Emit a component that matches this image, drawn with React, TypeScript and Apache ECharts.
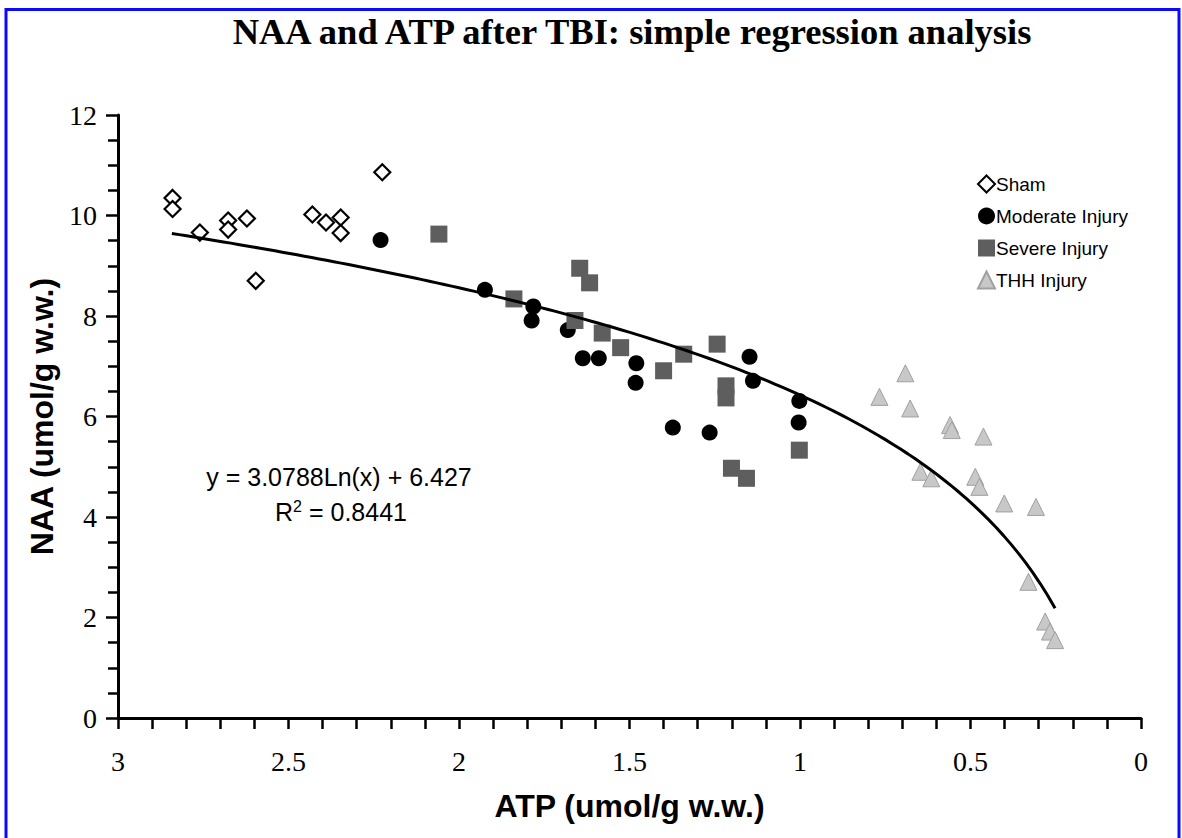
import React, { useEffect, useRef } from "react";
import * as echarts from "echarts";

// ---- data (ATP, NAA) ----
const shamATP = [2.84, 2.84, 2.76, 2.677, 2.677, 2.622, 2.596, 2.43, 2.39, 2.347, 2.347, 2.225];
const shamNAA = [10.35, 10.13, 9.66, 9.9, 9.72, 9.94, 8.7, 10.02, 9.86, 9.96, 9.65, 10.86];

const moderateATP = [2.23, 1.924, 1.782, 1.787, 1.681, 1.637, 1.59, 1.48, 1.482, 1.373, 1.265, 1.148, 1.138, 1.002, 1.004];
const moderateNAA = [9.51, 8.52, 8.19, 7.91, 7.72, 7.16, 7.16, 7.06, 6.67, 5.78, 5.68, 7.19, 6.71, 6.31, 5.88];

const severeATP = [2.059, 1.646, 1.617, 1.839, 1.66, 1.58, 1.526, 1.4, 1.341, 1.243, 1.217, 1.217, 1.201, 1.157, 1.002];
const severeNAA = [9.63, 8.95, 8.66, 8.34, 7.91, 7.66, 7.37, 6.91, 7.24, 7.44, 6.61, 6.37, 4.97, 4.77, 5.33];

const thhATP = [0.691, 0.767, 0.677, 0.56, 0.555, 0.462, 0.647, 0.615, 0.486, 0.474, 0.401, 0.308, 0.33, 0.281, 0.267, 0.252];
const thhNAA = [6.86, 6.39, 6.16, 5.83, 5.73, 5.6, 4.9, 4.77, 4.8, 4.6, 4.27, 4.2, 2.71, 1.92, 1.72, 1.55];

// regression shown on chart: y = a ln(x) + b, drawn over the fitted range
const fitA = 3.0788;
const fitB = 6.427;
const fitMin = 0.252;
const fitMax = 2.842;

const xTicks = ["3", "2.5", "2", "1.5", "1", "0.5", "0"];
const yTicks = ["0", "2", "4", "6", "8", "10", "12"];

const seriesNames = ["Sham", "Moderate Injury", "Severe Injury", "THH Injury"];

const zip = (a: number[], b: number[]) => a.map((v, i) => [v, b[i]]);

export default function App() {
  const ref = useRef<HTMLDivElement>(null);
  useEffect(() => {
    if (!ref.current) return;
    const chart = echarts.init(ref.current, null, { renderer: "svg" });
    const fit: number[][] = [];
    const steps = 120;
    for (let i = 0; i <= steps; i++) {
      const x = fitMin + ((fitMax - fitMin) * i) / steps;
      fit.push([x, fitA * Math.log(x) + fitB]);
    }
    const serif = "'Liberation Serif', 'Times New Roman', serif";
    const sans = "'Liberation Sans', Arial, sans-serif";
    chart.setOption({
      animation: false,
      backgroundColor: "#ffffff",
      grid: { left: 118, right: 41, top: 115, bottom: 120 },
      xAxis: {
        type: "value",
        min: 0,
        max: 3,
        interval: 0.5,
        inverse: true,
        splitLine: { show: false },
        minorSplitLine: { show: false },
        axisLine: { show: true, onZero: false, lineStyle: { color: "#000", width: 3 } },
        axisTick: { show: true, length: 11, lineStyle: { color: "#000", width: 2.5 } },
        minorTick: { show: true, splitNumber: 5, length: 11, lineStyle: { color: "#000", width: 2.5 } },
        axisLabel: {
          margin: 29,
          fontFamily: serif,
          fontSize: 28,
          color: "#000",
          formatter: (v: number) => xTicks[Math.round((3 - v) / 0.5)] ?? String(v),
        },
        name: "ATP (umol/g w.w.)",
        nameLocation: "middle",
        nameGap: 72,
        nameTextStyle: { fontFamily: sans, fontWeight: "bold", fontSize: 32, color: "#000" },
      },
      yAxis: {
        type: "value",
        min: 0,
        max: 12,
        interval: 2,
        splitLine: { show: false },
        minorSplitLine: { show: false },
        axisLine: { show: true, onZero: false, lineStyle: { color: "#000", width: 3 } },
        axisTick: { show: true, length: 12, lineStyle: { color: "#000", width: 2.5 } },
        minorTick: { show: true, splitNumber: 4, length: 10, lineStyle: { color: "#000", width: 2.5 } },
        axisLabel: {
          margin: 21,
          fontFamily: serif,
          fontSize: 28,
          color: "#000",
          formatter: (v: number) => yTicks[Math.round(v / 2)] ?? String(v),
        },
        name: "NAA (umol/g w.w.)",
        nameLocation: "middle",
        nameGap: 58,
        nameTextStyle: { fontFamily: sans, fontWeight: "bold", fontSize: 32, color: "#000" },
      },
      legend: {
        data: seriesNames,
        orient: "vertical",
        left: 972,
        top: 169,
        itemGap: 12,
        itemWidth: 17,
        itemHeight: 17,
        textStyle: { fontFamily: sans, fontSize: 19, lineHeight: 20, color: "#000", padding: [0, 0, 0, -4] },
      },
      graphic: [
        {
          type: "rect",
          shape: { x: 6, y: 9.5, width: 1173, height: 900 },
          style: { fill: "none", stroke: "#0a0aff", lineWidth: 3 },
          silent: true,
        },
        {
          type: "text",
          x: 632,
          y: 31,
          style: {
            text: "NAA and ATP after TBI: simple regression analysis",
            align: "center",
            verticalAlign: "middle",
            fontFamily: serif,
            fontWeight: "bold",
            fontSize: 36.5,
            fill: "#000",
          },
        },
        {
          type: "text",
          x: 339,
          y: 477,
          style: {
            text: "y = 3.0788Ln(x) + 6.427",
            align: "center",
            verticalAlign: "middle",
            fontFamily: sans,
            fontSize: 25,
            fill: "#000",
          },
        },
        {
          type: "text",
          x: 341,
          y: 512,
          style: {
            text: "{a|R}{s|2}{a| = 0.8441}",
            align: "center",
            verticalAlign: "middle",
            rich: {
              a: { fontFamily: sans, fontSize: 25, fill: "#000", color: "#000" },
              s: { fontFamily: sans, fontSize: 16, fill: "#000", color: "#000", verticalAlign: "top", padding: [0, 0, 12, 0] },
            },
          },
        },
      ],
      series: [
        {
          name: "Sham",
          type: "scatter",
          symbol: "diamond",
          symbolSize: 16,
          data: zip(shamATP, shamNAA),
          itemStyle: { color: "#fff", borderColor: "#000", borderWidth: 2.2, opacity: 1 },
          z: 3,
        },
        {
          name: "Moderate Injury",
          type: "scatter",
          symbol: "circle",
          symbolSize: 16,
          data: zip(moderateATP, moderateNAA),
          itemStyle: { color: "#000", opacity: 1 },
          z: 3,
        },
        {
          name: "Severe Injury",
          type: "scatter",
          symbol: "rect",
          symbolSize: 17,
          data: zip(severeATP, severeNAA),
          itemStyle: { color: "#5e5e5e", opacity: 1 },
          z: 3,
        },
        {
          name: "THH Injury",
          type: "scatter",
          symbol: "triangle",
          symbolSize: 17,
          data: zip(thhATP, thhNAA),
          itemStyle: { color: "#c8c8c8", borderColor: "#a0a0a0", borderWidth: 1, opacity: 1 },
          z: 3,
        },
        {
          name: "Fit",
          type: "line",
          data: fit,
          showSymbol: false,
          symbol: "none",
          smooth: false,
          lineStyle: { color: "#000", width: 3 },
          z: 4,
        },
      ],
    });
    return () => chart.dispose();
  }, []);
  return (
    <div
      ref={ref}
      style={{ position: "absolute", left: 0, top: 0, width: 1182, height: 838 }}
    />
  );
}
